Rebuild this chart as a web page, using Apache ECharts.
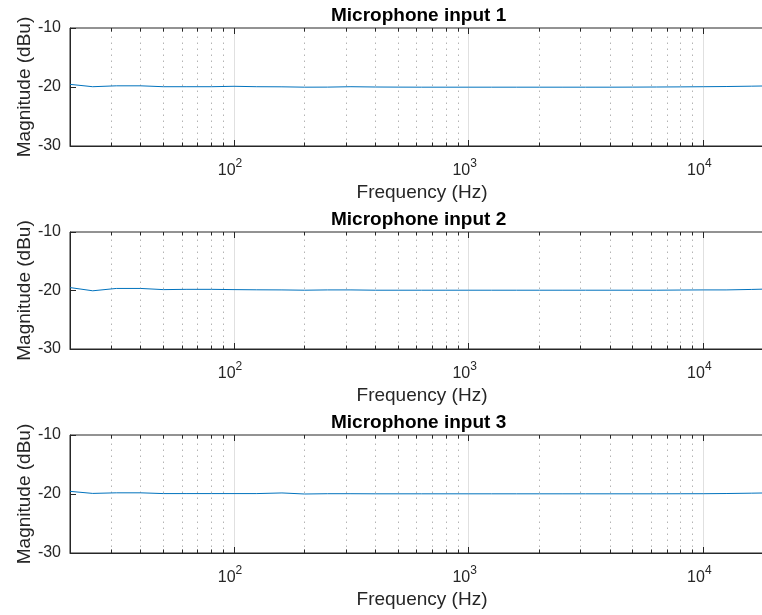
<!DOCTYPE html>
<html>
<head>
<meta charset="utf-8">
<script src="https://cdn.jsdelivr.net/npm/echarts@6/dist/echarts.min.js"></script>
<style>
html,body{margin:0;padding:0;background:#fff}
#chart{width:762px;height:615px}
</style>
</head>
<body>
<div id="chart"></div>
<script>
// third-octave centre frequencies (Hz)
var freqs = [20,25,31.5,40,50,63,80,100,125,160,200,250,315,400,500,630,800,1000,1250,1600,2000,2500,3150,4000,5000,6300,8000,10000,12500,16000,20000];
// magnitude per input (dBu)
var mic1 = [-19.55,-19.95,-19.8,-19.8,-19.95,-19.95,-19.95,-19.88,-19.95,-19.97,-20.03,-20.02,-19.95,-20.0,-20.02,
            -20.03,-20.03,-20.03,-20.03,-20.03,-20.03,-20.03,-20.03,-20.03,-20.02,-20.0,-19.98,-19.95,-19.92,-19.86,-19.8];
var mic2 = [-19.5,-20.05,-19.65,-19.65,-19.85,-19.8,-19.8,-19.85,-19.88,-19.9,-19.95,-19.9,-19.9,-19.95,-19.95,
            -19.95,-19.95,-19.95,-19.95,-19.95,-19.95,-19.95,-19.95,-19.95,-19.95,-19.95,-19.92,-19.9,-19.9,-19.82,-19.72];
var mic3 = [-19.55,-19.9,-19.8,-19.8,-19.93,-19.93,-19.93,-19.93,-19.93,-19.82,-20.0,-19.95,-19.95,-19.97,-19.97,
            -19.97,-19.97,-19.97,-19.97,-19.97,-19.97,-19.97,-19.97,-19.97,-19.97,-19.97,-19.96,-19.95,-19.92,-19.86,-19.8];
var titles = ['Microphone input 1','Microphone input 2','Microphone input 3'];
var minorFreqs = [30,40,50,60,70,80,90,200,300,400,500,600,700,800,900,2000,3000,4000,5000,6000,7000,8000,9000];
var xMin = 20, xMax = 20000;
var yMin = -30, yMax = -10, yStep = 10;

var FONT = 'Liberation Sans, Arial, Helvetica, sans-serif';
var AX = '#262626';
var gridTops = [28, 232, 435];
var gridH = [118, 117, 118];
var titleTops = [6, 210, 413];
var titleLeft = 331;

var allData = [mic1, mic2, mic3];

var option = {
	animation: false,
	backgroundColor: '#fff',
	title: [], grid: [], xAxis: [], yAxis: [], series: []
};

function isDecade(v){
	var p = Math.log(v)/Math.LN10;
	return Math.abs(p - Math.round(p)) < 1e-6;
}

for (var i = 0; i < 3; i++) {
	option.title.push({
		text: titles[i], left: titleLeft, top: titleTops[i], padding: 0,
		textStyle: {fontFamily: FONT, fontSize: 19, fontWeight: 'bold', color: '#000'}
	});
	option.grid.push({
		left: 70, right: -12, top: gridTops[i], height: gridH[i],
		show: true, borderColor: AX, borderWidth: 1, backgroundColor: 'transparent',
		containLabel: false, outerBoundsMode: 'none'
	});
	// bottom axis with labels
	option.xAxis.push({
		type: 'log', logBase: 10, gridIndex: i, min: xMin, max: xMax, position: 'bottom',
		name: 'Frequency (Hz)', nameLocation: 'middle', nameGap: 37, nameMoveOverlap: false,
		nameTextStyle: {fontFamily: FONT, fontSize: 19, color: AX},
		axisLine: {show: true, onZero: false, lineStyle: {color: AX, width: 1}},
		axisTick: {show: true, inside: true, length: 6, lineStyle: {color: AX}},
		axisLabel: {
			show: true, margin: 12, padding: [0, 8, 0, 0], showMinLabel: true, showMaxLabel: true,
			formatter: function(v){
				if (!isDecade(v)) return '';
				return '{b|10}{s|' + Math.round(Math.log(v)/Math.LN10) + '}';
			},
			rich: {
				b: {fontFamily: FONT, fontSize: 16, lineHeight: 25, color: AX},
				s: {fontFamily: FONT, fontSize: 12, lineHeight: 12, verticalAlign: 'top', color: AX}
			}
		},
		splitLine: {show: true, lineStyle: {color: '#e0e0e0', width: 1}}
	});
	// top axis, ticks only
	option.xAxis.push({
		type: 'log', logBase: 10, gridIndex: i, min: xMin, max: xMax, position: 'top',
		axisLine: {show: false},
		axisTick: {show: true, inside: true, length: 6, lineStyle: {color: AX}},
		axisLabel: {show: false},
		splitLine: {show: false}
	});
	option.yAxis.push({
		type: 'value', gridIndex: i, min: yMin, max: yMax, interval: yStep,
		name: 'Magnitude (dBu)', nameLocation: 'middle', nameGap: 36, nameMoveOverlap: false,
		nameTextStyle: {fontFamily: FONT, fontSize: 19, color: AX},
		axisLine: {show: true, onZero: false, lineStyle: {color: AX, width: 1}},
		axisTick: {show: true, inside: true, length: 6, lineStyle: {color: AX}},
		axisLabel: {fontFamily: FONT, fontSize: 16, color: AX, margin: 9},
		splitLine: {show: false}
	});

	// minor grid lines and minor ticks (log decades)
	var ml = [];
	minorFreqs.forEach(function(f){
		ml.push({xAxis: f, lineStyle: {type: [1.5, 4.5], color: '#b4b4b4', width: 1}});
		ml.push([{coord: [f, yMin], lineStyle: {type: 'solid', color: AX, width: 1}}, {coord: [f, yMin + 0.6]}]);
		ml.push([{coord: [f, yMax], lineStyle: {type: 'solid', color: AX, width: 1}}, {coord: [f, yMax - 0.6]}]);
	});

	var pts = [];
	for (var k = 0; k < freqs.length; k++) pts.push([freqs[k], allData[i][k]]);

	option.series.push({
		type: 'line', xAxisIndex: i * 2, yAxisIndex: i, data: pts,
		showSymbol: false, symbol: 'none', smooth: false, z: 3,
		lineStyle: {color: '#0072BD', width: 1},
		markLine: {
			silent: true, symbol: ['none', 'none'], z: 1,
			label: {show: false}, emphasis: {disabled: true},
			animation: false,
			data: ml
		}
	});
}

var myChart = echarts.init(document.getElementById('chart'));
myChart.setOption(option);
</script>
</body>
</html>
